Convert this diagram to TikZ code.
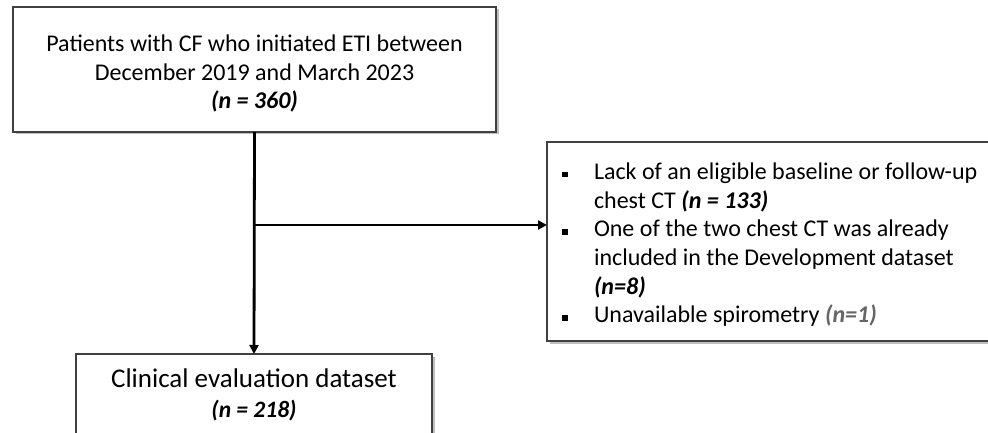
\documentclass[tikz,border=0pt]{standalone}
\usepackage{fontspec}
\setmainfont{Carlito}
\usepackage{tikz}
\usetikzlibrary{arrows.meta,positioning,calc,shadows}
\tikzset{
  stagebox/.style={draw=black!75,line width=1.5pt,fill=white,align=flush center,inner sep=0pt,outer sep=0pt,
    drop shadow={shadow xshift=2.5pt,shadow yshift=-2.5pt,fill=black,opacity=0.25}},
  exclbox/.style={stagebox,align=flush left,anchor=north west},
  flowarrow/.style={-{Triangle[length=9pt,width=9pt]},line width=2.8pt},
  countlabel/.style={font=\bfseries\itshape}
}
\newcommand{\exclitem}{\hangindent=32pt\hangafter=1\noindent\makebox[32pt][l]{\raisebox{2pt}{\rule{5.5pt}{5.5pt}}}}

\begin{document}
\begin{tikzpicture}[x=1pt,y=-1pt]
  \clip (0,0) rectangle (988,433);
  \fill[white] (0,0) rectangle (988,433);
  \node[stagebox,minimum width=483pt,minimum height=125pt,text width=483pt,font=\fontsize{24}{28.3}\selectfont] (patients) at (254.5,69.5)
    {\rule{0pt}{25pt}Patients with CF who initiated ETI between\\December 2019 and March 2023\\{\bfseries\itshape (n = 360)}};
  \node[stagebox,minimum width=356pt,minimum height=82pt,font=\fontsize{27}{30}\selectfont] (clinical) at (254,395)
    {Clinical evaluation dataset\\{\fontsize{23.5}{30}\selectfont\bfseries\itshape (n = 218)}};
  \node[exclbox,minimum width=470pt,minimum height=199pt,text width=440pt,inner xsep=13pt,
    font=\fontsize{24}{28.7}\selectfont] (excluded) at (547,142) {%
    \exclitem\rule{0pt}{23pt}Lack of an eligible baseline or follow-up\newline chest CT {\bfseries\itshape (n = 133)}\par
    \exclitem One of the two chest CT was already\newline included in the Development dataset\newline {\bfseries\itshape (n=8)}\par
    \exclitem Unavailable spirometry {\color{black!60}\bfseries\itshape (n=1)}\par};
  \coordinate (split) at (patients.south |- 0,225);
  \draw[flowarrow] (patients.south) -- (clinical.north);
  \draw[flowarrow] (split) -- (split -| excluded.west);
\end{tikzpicture}
\end{document}
